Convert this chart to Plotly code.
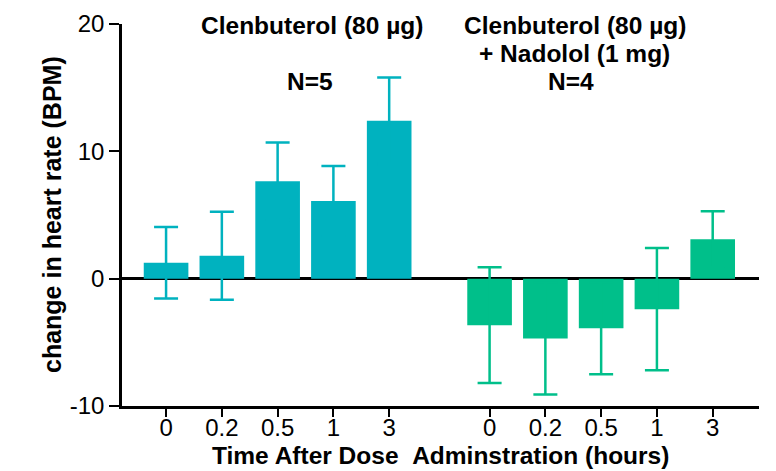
import plotly.graph_objects as go

# Data
time_labels = ["0", "0.2", "0.5", "1", "3"]
clen_pos = [0, 1, 2, 3, 4]
clen_vals = [1.25, 1.8, 7.65, 6.1, 12.4]
clen_err = [2.8, 3.45, 3.05, 2.75, 3.4]
nad_pos = [5.8, 6.8, 7.8, 8.8, 9.8]
nad_vals = [-3.65, -4.7, -3.9, -2.4, 3.1]
nad_err = [4.55, 4.4, 3.6, 4.8, 2.2]
y_ticks = [-10, 0, 10, 20]
y_tick_labels = ["-10", "0", "10", "20"]

TEAL = "#00B2BF"
GREEN = "#00BF8A"
FONT = "Liberation Sans, Arial, sans-serif"

fig = go.Figure()
fig.add_trace(go.Bar(
    x=clen_pos, y=clen_vals, width=0.8,
    marker=dict(color=TEAL, line=dict(width=0)),
    error_y=dict(type="data", array=clen_err, visible=True, color=TEAL, thickness=2.5, width=12),
    showlegend=False,
))
fig.add_trace(go.Bar(
    x=nad_pos, y=nad_vals, width=0.8,
    marker=dict(color=GREEN, line=dict(width=0)),
    error_y=dict(type="data", array=nad_err, visible=True, color=GREEN, thickness=2.5, width=12),
    showlegend=False,
))

fig.update_layout(
    width=768, height=463,
    margin=dict(l=114, r=17, t=16, b=65),
    plot_bgcolor="white", paper_bgcolor="white",
    font=dict(family=FONT, color="black"),
    xaxis=dict(
        range=[-0.79, 10.63],
        tickvals=clen_pos + nad_pos,
        ticktext=time_labels + time_labels,
        showline=True, linecolor="black", linewidth=2.5,
        ticks="outside", ticklen=8, tickwidth=2, tickcolor="black",
        tickfont=dict(size=24, family=FONT), ticklabelstandoff=-10,
        showgrid=False, zeroline=False, automargin=False,
    ),
    yaxis=dict(
        range=[-10, 20],
        tickvals=y_ticks, ticktext=y_tick_labels,
        showline=True, linecolor="black", linewidth=2.5,
        ticks="outside", ticklen=10, tickwidth=2, tickcolor="black",
        tickfont=dict(size=24, family=FONT),
        showgrid=False, automargin=False,
        zeroline=True, zerolinecolor="black", zerolinewidth=2.5,
    ),
)

ann_font = dict(size=24.5, family=FONT, color="black")
annotations = [
    dict(x=2.62, y=19.9, text="<b>Clenbuterol (80 µg)</b>"),
    dict(x=2.58, y=15.5, text="<b>N=5</b>"),
    dict(x=7.33, y=19.9, text="<b>Clenbuterol (80 µg)</b>"),
    dict(x=7.33, y=17.7, text="<b>+ Nadolol (1 mg)</b>"),
    dict(x=7.26, y=15.5, text="<b>N=4</b>"),
]
for a in annotations:
    fig.add_annotation(xref="x", yref="y", showarrow=False, xanchor="center",
                       yanchor="middle", font=ann_font, **a)

# axis titles
fig.add_annotation(xref="paper", yref="paper", x=0.5, y=0, yshift=-49,
                   xanchor="center", yanchor="middle", showarrow=False,
                   text="<b>Time After Dose&nbsp;&nbsp;Adminstration (hours)</b>",
                   font=dict(size=24.5, family=FONT, color="black"))
fig.add_annotation(xref="paper", yref="paper", x=0, y=0.5, xshift=-70,
                   xanchor="center", yanchor="middle", showarrow=False, textangle=-90,
                   text="<b>change in heart rate (BPM)</b>",
                   font=dict(size=25, family=FONT, color="black"))

fig.write_html("out.html")
